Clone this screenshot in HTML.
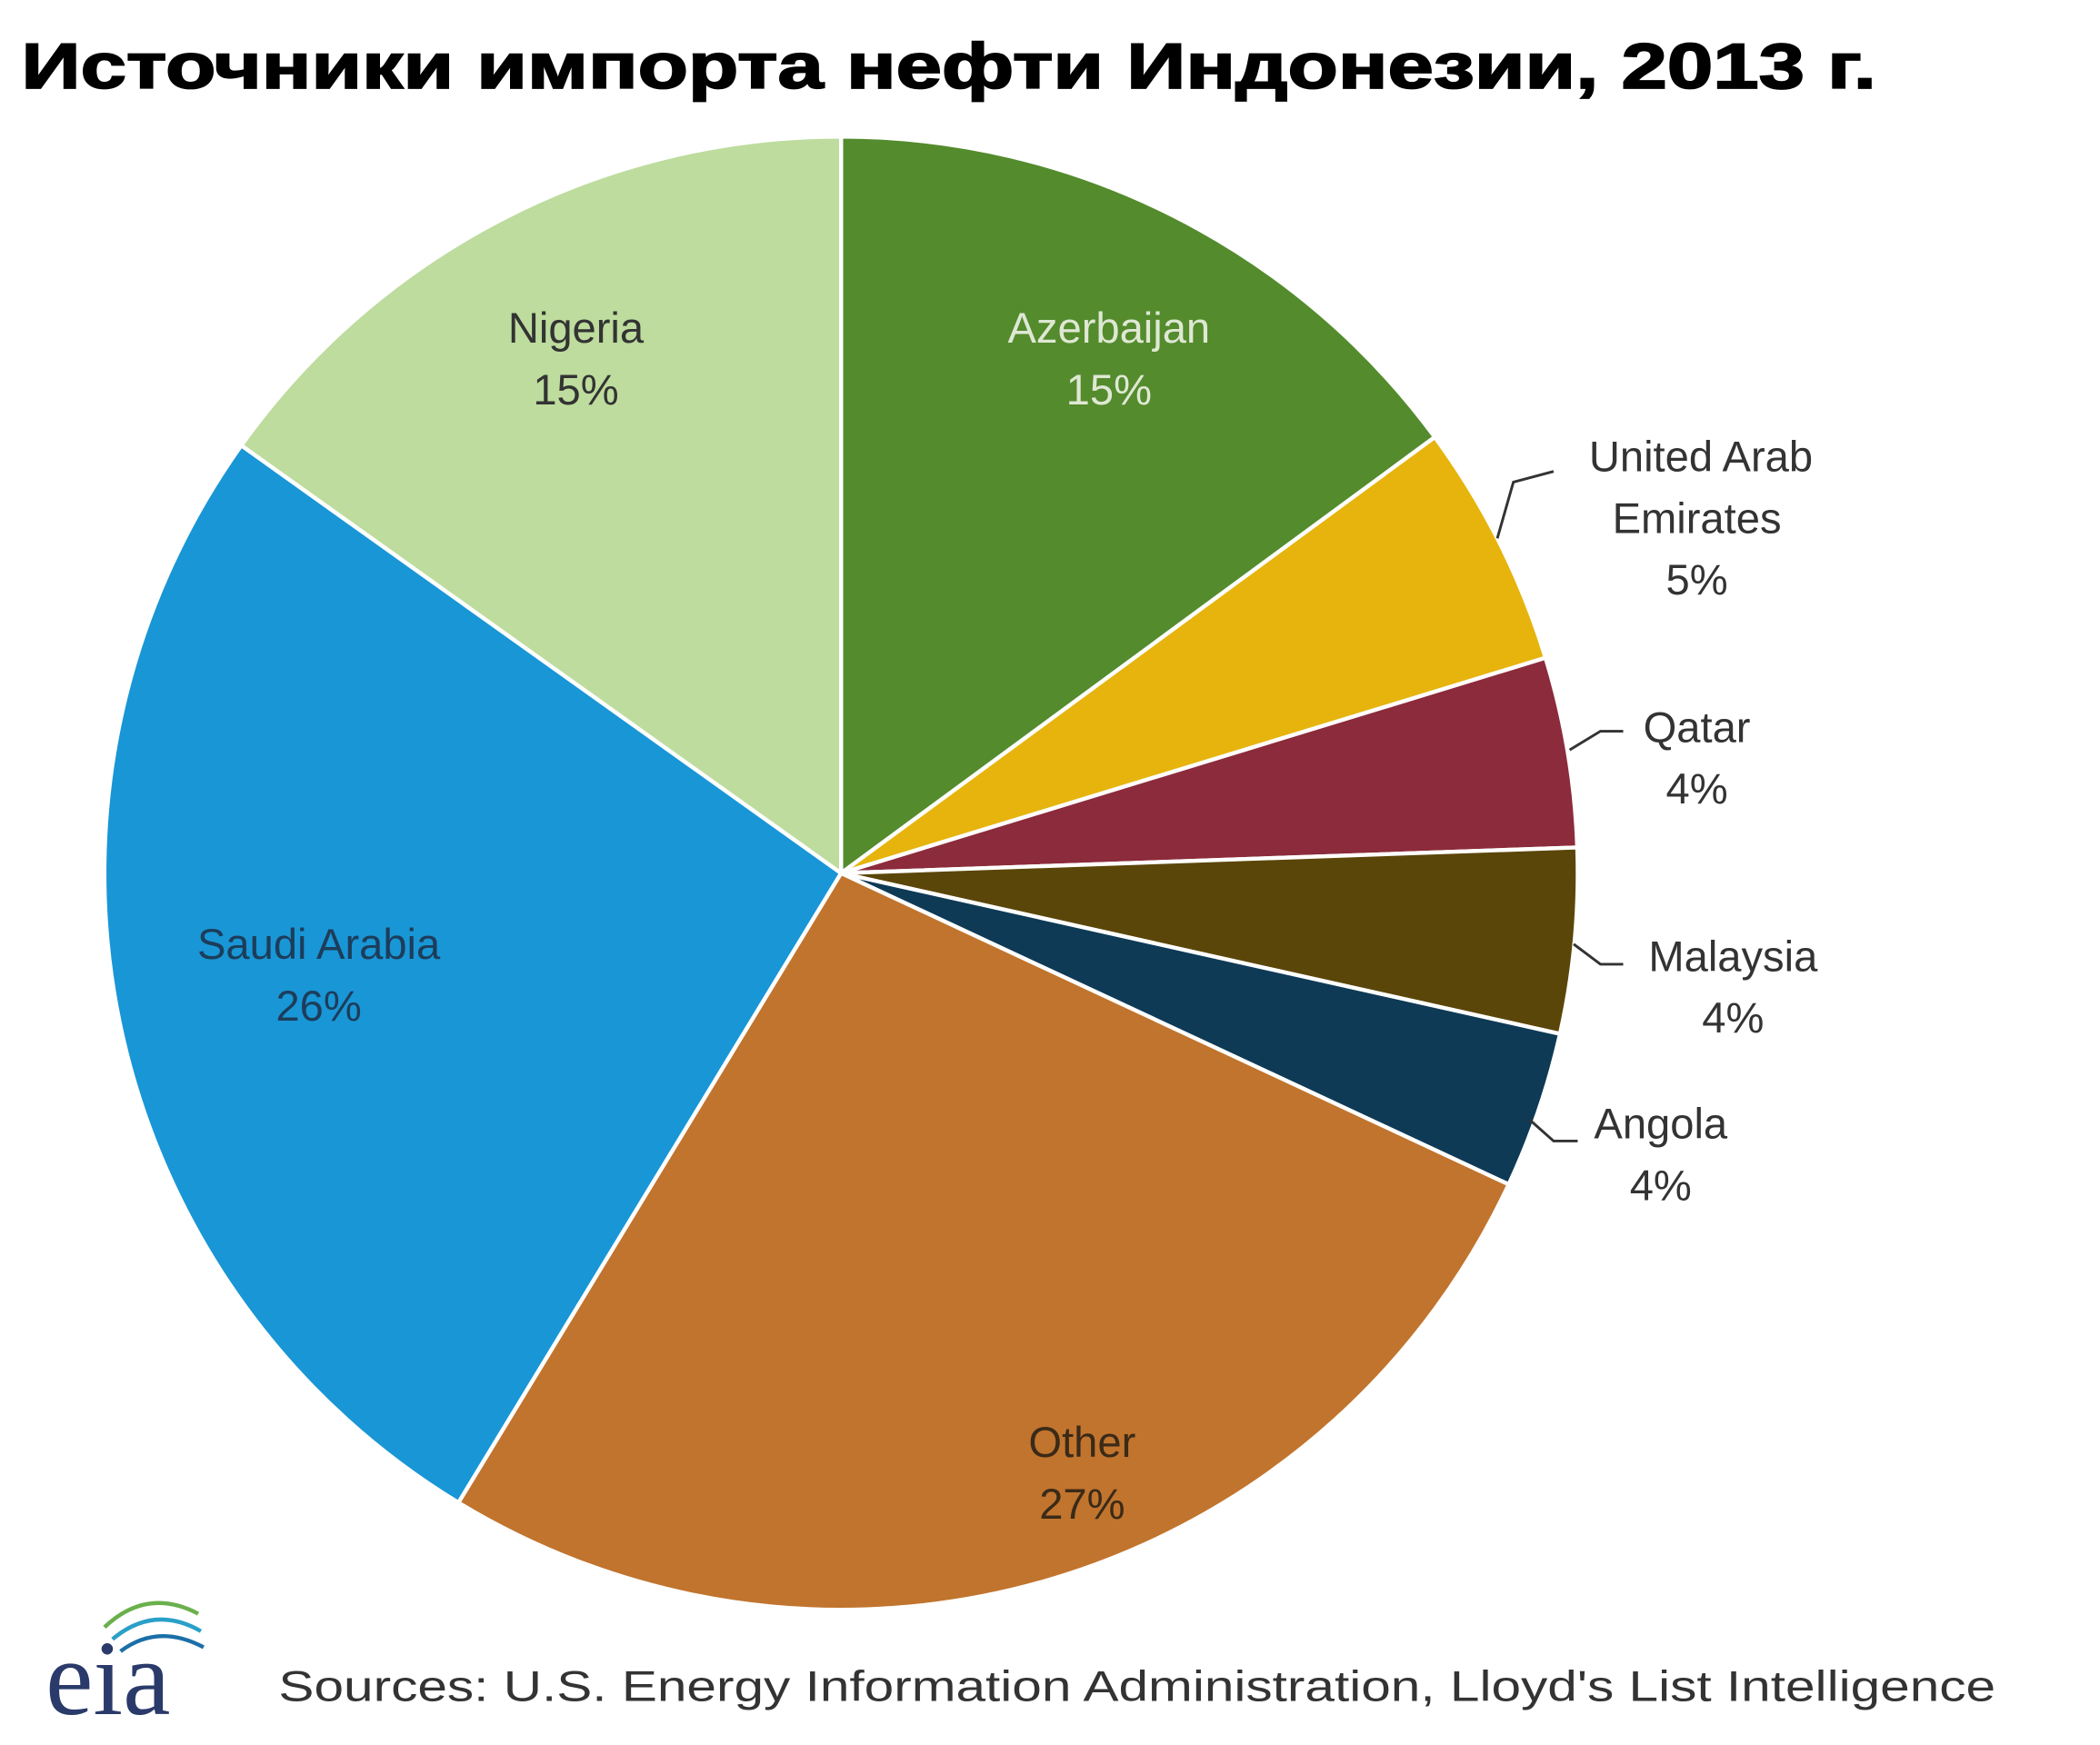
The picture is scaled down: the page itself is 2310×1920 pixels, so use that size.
<!DOCTYPE html>
<html><head><meta charset="utf-8"><style>
html,body{margin:0;padding:0;background:#fff;}
svg{display:block;}
</style></head><body>
<svg width="2310" height="1920" viewBox="0 0 1568 1303" preserveAspectRatio="none" xmlns="http://www.w3.org/2000/svg">
<rect width="1568" height="1303" fill="#fff"/>
<text x="16" y="66" font-family="Liberation Sans, DejaVu Sans, sans-serif" font-weight="bold" font-size="48" fill="#000" stroke="#000" stroke-width="1.2" textLength="1385" lengthAdjust="spacingAndGlyphs">Источники импорта нефти Индонезии, 2013 г.</text>
<g stroke="#fff" stroke-width="3" stroke-linejoin="round">
<path d="M628,652 L628,102 A550,550 0 0 1 1071.3,326.4 Z" fill="#548b2d"/>
<path d="M628,652 L1071.3,326.4 A550,550 0 0 1 1154,491.2 Z" fill="#e6b40c"/>
<path d="M628,652 L1154,491.2 A550,550 0 0 1 1177.7,632.8 Z" fill="#8c2b3b"/>
<path d="M628,652 L1177.7,632.8 A550,550 0 0 1 1164.8,772 Z" fill="#5b4609"/>
<path d="M628,652 L1164.8,772 A550,550 0 0 1 1126.5,884.4 Z" fill="#0e3a56"/>
<path d="M628,652 L1126.5,884.4 A550,550 0 0 1 342.3,1122 Z" fill="#c1742d"/>
<path d="M628,652 L342.3,1122 A550,550 0 0 1 180.2,332.6 Z" fill="#1996d6"/>
<path d="M628,652 L180.2,332.6 A550,550 0 0 1 628,102 Z" fill="#bddc9d"/>
</g>
<g font-family="Liberation Sans, DejaVu Sans, sans-serif" font-size="32" text-anchor="middle">
<text x="430" y="256" fill="#333">Nigeria</text><text x="430" y="302" fill="#333">15%</text>
<text x="828" y="256" fill="#dfe8d4">Azerbaijan</text><text x="828" y="302" fill="#dfe8d4">15%</text>
<text x="238" y="716" fill="#1c3d5a">Saudi Arabia</text><text x="238" y="762" fill="#1c3d5a">26%</text>
<text x="808" y="1088" fill="#3a2a18">Other</text><text x="808" y="1134" fill="#3a2a18">27%</text>
<g fill="#333">
<text x="1270" y="352">United Arab</text><text x="1267" y="398">Emirates</text><text x="1267" y="444">5%</text>
<text x="1267" y="554">Qatar</text><text x="1267" y="600">4%</text>
<text x="1294" y="725">Malaysia</text><text x="1294" y="771">4%</text>
<text x="1240" y="850">Angola</text><text x="1240" y="896">4%</text>
</g>
</g>
<g stroke="#333" stroke-width="2" fill="none">
<path d="M1118,402 L1130,360 L1160,352"/>
<path d="M1172,560 L1195,546 L1212,546"/>
<path d="M1175,705 L1195,720 L1212,720"/>
<path d="M1142,836 L1160,852 L1178,852"/>
</g>
<g fill="none" stroke-width="3">
<path d="M78,1215 Q110,1185 148,1205" stroke="#6ab04c"/>
<path d="M84,1224 Q115,1198 150,1218" stroke="#2aa0c8"/>
<path d="M90,1233 Q118,1212 152,1230" stroke="#1b6fa8"/>
</g>
<text x="34" y="1280" font-family="Liberation Serif, DejaVu Serif, serif" font-size="80" fill="#2a3a6a">eia</text>
<text x="208" y="1270" font-family="Liberation Sans, DejaVu Sans, sans-serif" font-size="32" fill="#333" textLength="1282" lengthAdjust="spacingAndGlyphs">Sources: U.S. Energy Information Administration, Lloyd's List Intelligence</text>
</svg>
</body></html>
